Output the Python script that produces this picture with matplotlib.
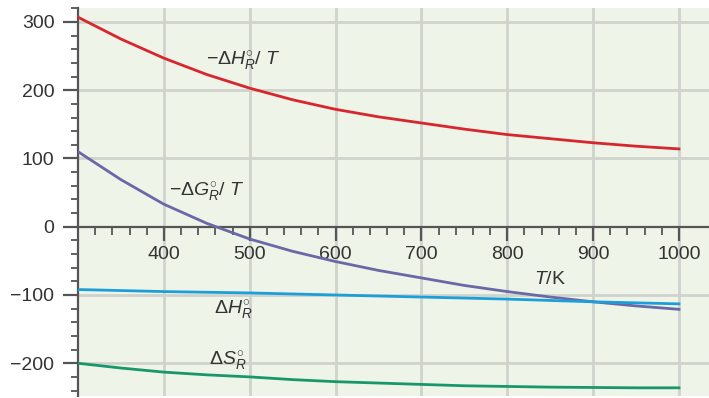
import numpy as np
import matplotlib.pyplot as plt
from matplotlib.ticker import MultipleLocator, FixedLocator

plt.rcParams['font.family'] = ['Liberation Sans', 'DejaVu Sans']
plt.rcParams['mathtext.fontset'] = 'custom'
plt.rcParams['mathtext.rm'] = 'Liberation Sans'
plt.rcParams['mathtext.it'] = 'Liberation Sans:italic'
plt.rcParams['mathtext.bf'] = 'Liberation Sans:bold'

# temperature in K
T = [300, 350, 400, 450, 500, 550, 600, 650, 700, 750, 800, 850, 900, 950, 1000]
# -dH/T (red)
neg_dH_T = [307, 275, 247, 223, 203, 186, 172, 161, 152, 143, 135, 129, 123, 118, 114]
# -dG/T (purple)
neg_dG_T = [110, 69, 33, 5, -18, -36, -51, -64, -75, -86, -95, -103, -110, -116, -121]
# dH (blue)
dH = [-92, -93.5, -95, -96, -97, -98.5, -100, -101.5, -103, -104.5, -106, -108, -110, -111.5, -113]
# dS (green)
dS = [-200, -207, -213, -217, -220, -224, -227, -229, -231, -233, -234, -235, -235.5, -236, -236]

x_ticks = [400, 500, 600, 700, 800, 900, 1000]
y_ticks = [-200, -100, 0, 100, 200, 300]

fig = plt.figure(figsize=(7.09, 3.98), dpi=100)
ax = fig.add_axes([0.110, 0.005, 0.890, 0.975])
ax.set_facecolor('#eef4e7')

ax.plot(T, neg_dH_T, color='#d8262f', lw=2, zorder=3)
ax.plot(T, neg_dG_T, color='#6a68a6', lw=2, zorder=3)
ax.plot(T, dH, color='#1c9fd9', lw=2, zorder=3)
ax.plot(T, dS, color='#18986a', lw=2, zorder=3)

ax.set_xlim(300, 1035)
ax.set_ylim(-248, 320.5)

# grid
for xv in x_ticks:
    ax.axvline(xv, color='#cfd3cd', lw=2, zorder=1)
for yv in y_ticks:
    if yv != 0:
        ax.axhline(yv, color='#cfd3cd', lw=2, zorder=1)

# axes through zero
ax.spines['top'].set_visible(False)
ax.spines['right'].set_visible(False)
ax.spines['bottom'].set_position(('data', 0))
ax.spines['left'].set_position(('data', 300))
for s in ['bottom', 'left']:
    ax.spines[s].set_color('#555555')
    ax.spines[s].set_linewidth(1.6)
    ax.spines[s].set_zorder(2)

ax.xaxis.set_major_locator(FixedLocator(x_ticks))
ax.xaxis.set_minor_locator(FixedLocator([v for v in range(320, 1000, 20) if v % 100 != 0]))
ax.yaxis.set_major_locator(FixedLocator(y_ticks))
ax.yaxis.set_minor_locator(FixedLocator([v for v in range(-240, 321, 20) if v % 100 != 0]))
ax.set_xticklabels([str(v) for v in x_ticks])
ax.set_yticklabels([str(v).replace('-', '\u2212') for v in y_ticks])

ax.tick_params(axis='x', which='major', direction='out', length=10, width=1.6,
               color='#555555', labelsize=14, labelcolor='#333333', pad=4)
ax.tick_params(axis='x', which='minor', direction='out', length=6, width=1.3, color='#555555')
ax.tick_params(axis='y', which='major', direction='out', length=11, width=1.6,
               color='#555555', labelsize=14, labelcolor='#333333', pad=6)
ax.tick_params(axis='y', which='minor', direction='out', length=5, width=1.3, color='#555555')

# curve labels
lab = dict(fontsize=14, color='#333333', ha='center', va='center', zorder=4)
ax.text(493, 242, r'$-\Delta H^{\circ}_{R}/\ T$', **lab)
ax.text(450, 50, r'$-\Delta G^{\circ}_{R}/\ T$', **lab)
ax.text(850, -78, r'$T/\mathrm{K}$', **lab)
ax.text(481, -122, r'$\Delta H^{\circ}_{R}$', **lab)
ax.text(474, -198, r'$\Delta S^{\circ}_{R}$', **lab)

fig.savefig('out.png', dpi=100)
